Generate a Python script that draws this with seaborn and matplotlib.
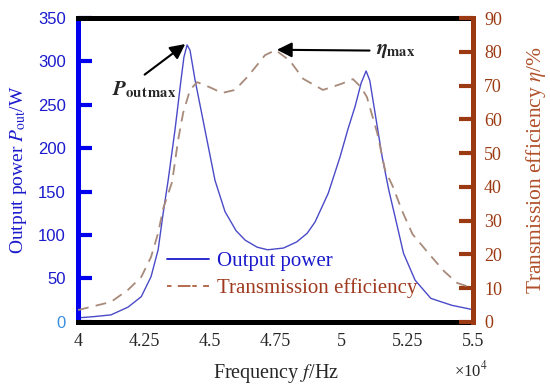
import numpy as np
import pandas as pd
import matplotlib
matplotlib.use("Agg")
import matplotlib.pyplot as plt
from matplotlib.lines import Line2D
import seaborn as sns

# Output power (frequency in 1e4 Hz, power in W)
freq_p = [4.00, 4.06, 4.125, 4.19, 4.24, 4.277, 4.304, 4.323, 4.342, 4.368, 4.391,
          4.402, 4.414, 4.425, 4.444, 4.482, 4.520, 4.558, 4.60, 4.635, 4.68, 4.72,
          4.78, 4.83, 4.87, 4.90, 4.95, 4.995, 5.025, 5.052, 5.075, 5.094, 5.108,
          5.124, 5.155, 5.18, 5.204, 5.236, 5.28, 5.34, 5.42, 5.50]
power = [4.6, 6, 8, 17, 29, 52, 83, 125, 163, 221, 279,
         305, 319, 313, 279, 221, 163, 127, 105, 94, 86, 83,
         85, 92, 102, 115, 148, 190, 222, 248, 275, 289, 278,
         248, 190, 152, 121, 79, 48, 27, 19, 14]

# Transmission efficiency (%)
freq_e = [4.00, 4.125, 4.19, 4.24, 4.277, 4.304, 4.323, 4.357, 4.38, 4.399, 4.425,
          4.452, 4.50, 4.547, 4.596, 4.646, 4.71, 4.75, 4.805, 4.855, 4.93, 5.00,
          5.044, 5.075, 5.097, 5.136, 5.166, 5.196, 5.23, 5.27, 5.33, 5.39, 5.44, 5.50]
eff = [3.5, 5.9, 9.5, 13.3, 19.2, 26.3, 33.5, 41.4, 53.9, 61.9, 68.7,
       71, 69.5, 67.8, 68.7, 72.8, 79, 80.5, 77.3, 72, 68.7, 70.5,
       71.9, 69.5, 66.6, 56, 45, 40, 33, 26, 20.4, 15, 11.5, 10]

xticks = [4, 4.25, 4.5, 4.75, 5, 5.25, 5.5]
xticklabels = ["4", "4.25", "4.5", "4.75", "5", "5.25", "5.5"]

df_p = pd.DataFrame({"f": freq_p, "P": power})
df_e = pd.DataFrame({"f": freq_e, "eta": eff})

sns.set_style("white")
plt.rcParams["font.family"] = ["Liberation Serif", "DejaVu Serif"]
plt.rcParams["mathtext.fontset"] = "stix"

blue = "#1a1acc"
brown = "#9b3a12"
dash_col = "#a88a7a"

fig = plt.figure(figsize=(5.5, 3.92), dpi=100)
ax = fig.add_axes([0.142, 0.179, 0.718, 0.775])
ax2 = ax.twinx()

sns.lineplot(data=df_p, x="f", y="P", ax=ax, color="#4a4ac8", lw=1.0)
sns.lineplot(data=df_e, x="f", y="eta", ax=ax2, color=dash_col, lw=1.3,
             linestyle=(0, (6, 4)))

ax.set_xlim(4, 5.5)
ax.set_ylim(0, 350)
ax2.set_ylim(0, 90)
ax.set_xticks(xticks)
ax.set_xticklabels(xticklabels)
ax.set_yticks(range(0, 351, 50))
ax2.set_yticks(range(0, 91, 10))

for s in ["top", "bottom"]:
    ax.spines[s].set_color("black")
    ax.spines[s].set_linewidth(3.6)
    ax2.spines[s].set_visible(False)
ax.spines["left"].set_color("#0000ee")
ax.spines["left"].set_linewidth(3.6)
ax.spines["right"].set_visible(False)
ax2.spines["left"].set_visible(False)
ax2.spines["right"].set_color(brown)
ax2.spines["right"].set_linewidth(3.6)

ax.tick_params(axis="x", direction="in", length=10, width=3, color="black",
               labelsize=13, pad=8)
ax.tick_params(axis="y", direction="in", length=10, width=3, color="#0000ee",
               labelcolor=blue, labelsize=12, pad=9)
for t in ax.get_yticklabels():
    t.set_family("Liberation Sans")
ax2.tick_params(axis="y", direction="in", length=10, width=3, color=brown,
                labelcolor=brown, labelsize=13, pad=8)
ax.get_yticklabels()[0].set_color("#3a8ee0")

ax.set_xlabel(r"Frequency $f$/Hz", fontsize=14.5, labelpad=9)
ax.set_ylabel(r"Output power $P_{\mathrm{out}}$/W", fontsize=14,
              color=blue, labelpad=6)
ax2.set_ylabel(r"Transmission efficiency $\eta$/%", fontsize=15.5,
               color="#b0502a", labelpad=16)
fig.text(0.857, 0.055, r"×10$^{4}$", fontsize=12, ha="center", va="center")

handles = [Line2D([], [], color=blue, lw=1.3),
           Line2D([], [], color="#b06040", lw=1.3, linestyle=(0, (2.5, 3.5, 7, 1)))]
leg = ax.legend(handles, ["Output power", "Transmission efficiency"],
                loc="lower left", bbox_to_anchor=(0.205, 0.05), frameon=False,
                fontsize=15, handlelength=2.0, handletextpad=0.4, labelspacing=0.35,
                borderaxespad=0)
leg.get_texts()[0].set_color("#1a1acc")
leg.get_texts()[1].set_color("#a03a20")

ax.annotate(r"$\mathbfit{P}_{\mathbf{out\,max}}$", xy=(4.407, 320), xytext=(4.13, 261),
            xycoords="data", fontsize=15, va="baseline",
            arrowprops=dict(arrowstyle="-|>,head_length=0.6,head_width=0.3",
                            color="black", lw=1.5, shrinkA=2, shrinkB=0,
                            relpos=(0.4, 1.0)))
ax2.annotate(r"$\mathbfit{\eta}_{\mathbf{max}}$", xy=(4.755, 80.6), xytext=(5.13, 80.3),
             fontsize=15, va="center",
             arrowprops=dict(arrowstyle="-|>,head_length=0.6,head_width=0.3",
                             color="black", lw=1.5, shrinkA=2, shrinkB=0))

fig.savefig("out.png", dpi=100)
